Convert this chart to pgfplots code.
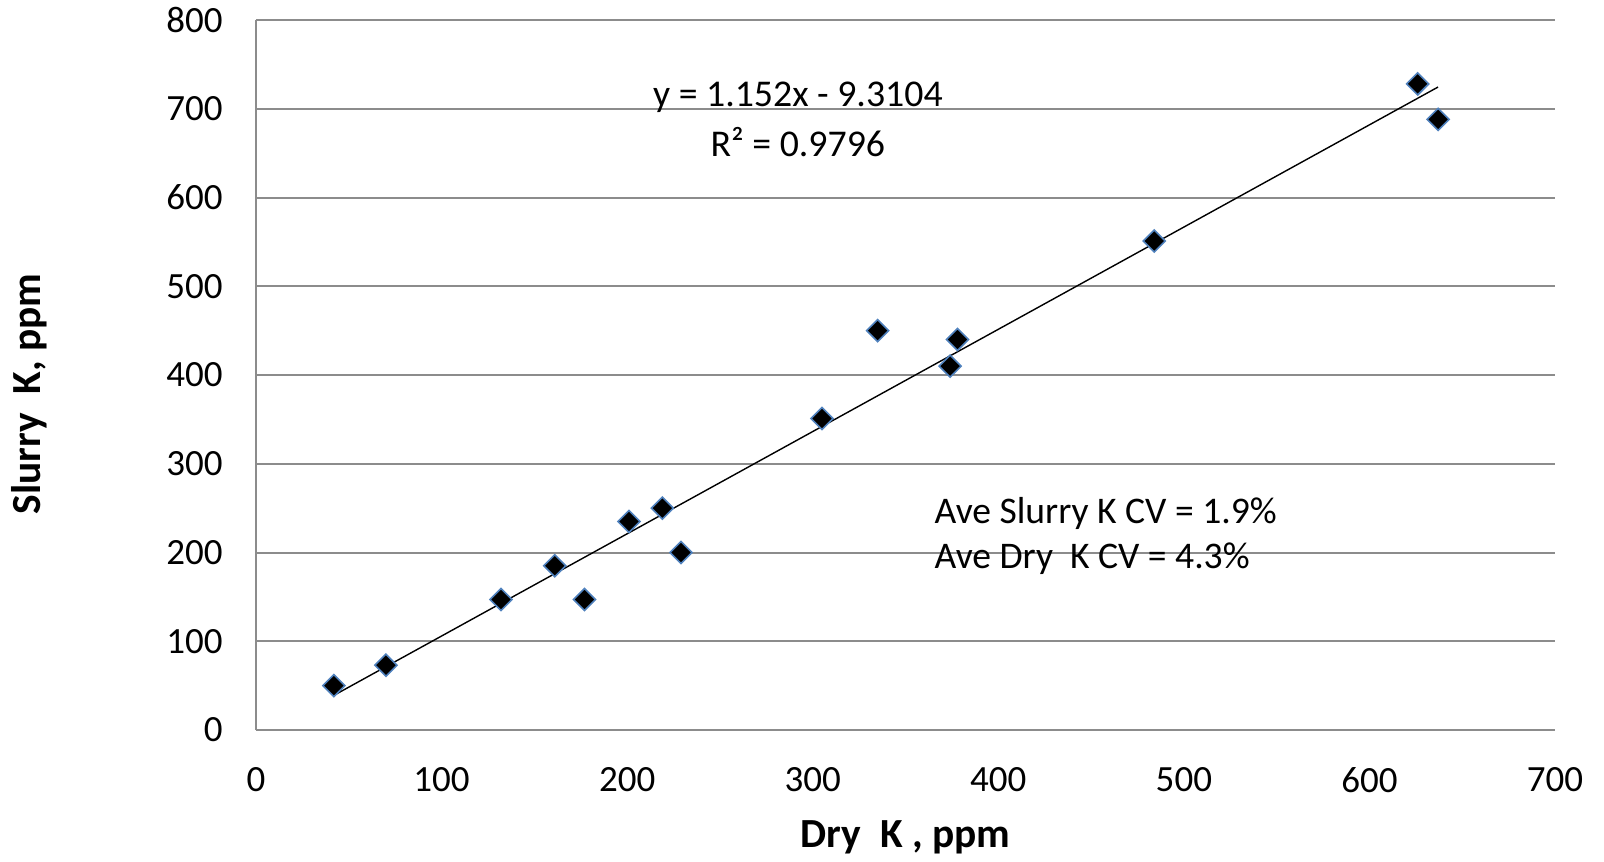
\documentclass[border=0pt]{standalone}
\usepackage{fontspec}
\setmainfont{Carlito}
\usepackage{pgfplots}
\pgfplotsset{compat=1.18}
\definecolor{gridgray}{RGB}{140,140,140}
\definecolor{markblue}{RGB}{79,129,189}
\begin{document}
\begin{tikzpicture}
\path[use as bounding box] (-128pt,-65.5pt) rectangle (674pt,365pt);
\begin{axis}[
  at={(0,0)}, anchor=south west,
  scale only axis, width=649.5pt, height=355pt,
  xmin=0, xmax=700, ymin=0, ymax=800,
  xtick={0,100,...,700}, ytick={0,100,...,800},
  axis x line*=bottom, axis y line*=left,
  axis line style={-, draw=gridgray, line width=1pt},
  ymajorgrids, major grid style={draw=gridgray, line width=1pt},
  major tick length=0pt,
  tick label style={font=\fontsize{18.5}{22}\selectfont},
  /pgf/number format/assume math mode=true,
  xticklabel style={anchor=center, yshift=-25pt},
  yticklabel style={anchor=east, inner sep=0pt, xshift=-16.5pt},
  xlabel={Dry\ \ K , ppm}, ylabel={Slurry\ \ K, ppm},
  label style={font=\bfseries\fontsize{20.7}{24}\selectfont},
  xlabel style={at={(axis description cs:0.5,-0.1507)}, anchor=center},
  ylabel style={at={(axis description cs:-0.1745,0.473)}, anchor=center},
  clip=false,
]
\addplot[black, line width=0.7pt, no marks] coordinates {(42,39.07) (637,724.5)};
\addplot[only marks, mark=square*, mark size=3.9pt,
  mark options={rotate=45, fill=black, draw=markblue, line width=0.8pt}]
  coordinates {
  (42,50) (70,73) (132,147) (161,185) (177,147) (201,235) (219,250) (229,200)
  (305,351) (335,450) (374,410) (378,440) (484,551) (626,728) (637,688)
  };
\node[font=\fontsize{18.9}{22}\selectfont] at (axis cs:292,713) {y = 1.152x - 9.3104};
\node[font=\fontsize{18.9}{22}\selectfont] at (axis cs:292,662) {R² = 0.9796};
\node[font=\fontsize{18.8}{22}\selectfont, anchor=west, inner sep=0pt] at (axis cs:365.5,244) {Ave Slurry K CV = 1.9\%};
\node[font=\fontsize{18.8}{22}\selectfont, anchor=west, inner sep=0pt] at (axis cs:365.5,192.5) {Ave Dry\ \ K CV = 4.3\%};
\end{axis}
\end{tikzpicture}
\end{document}
